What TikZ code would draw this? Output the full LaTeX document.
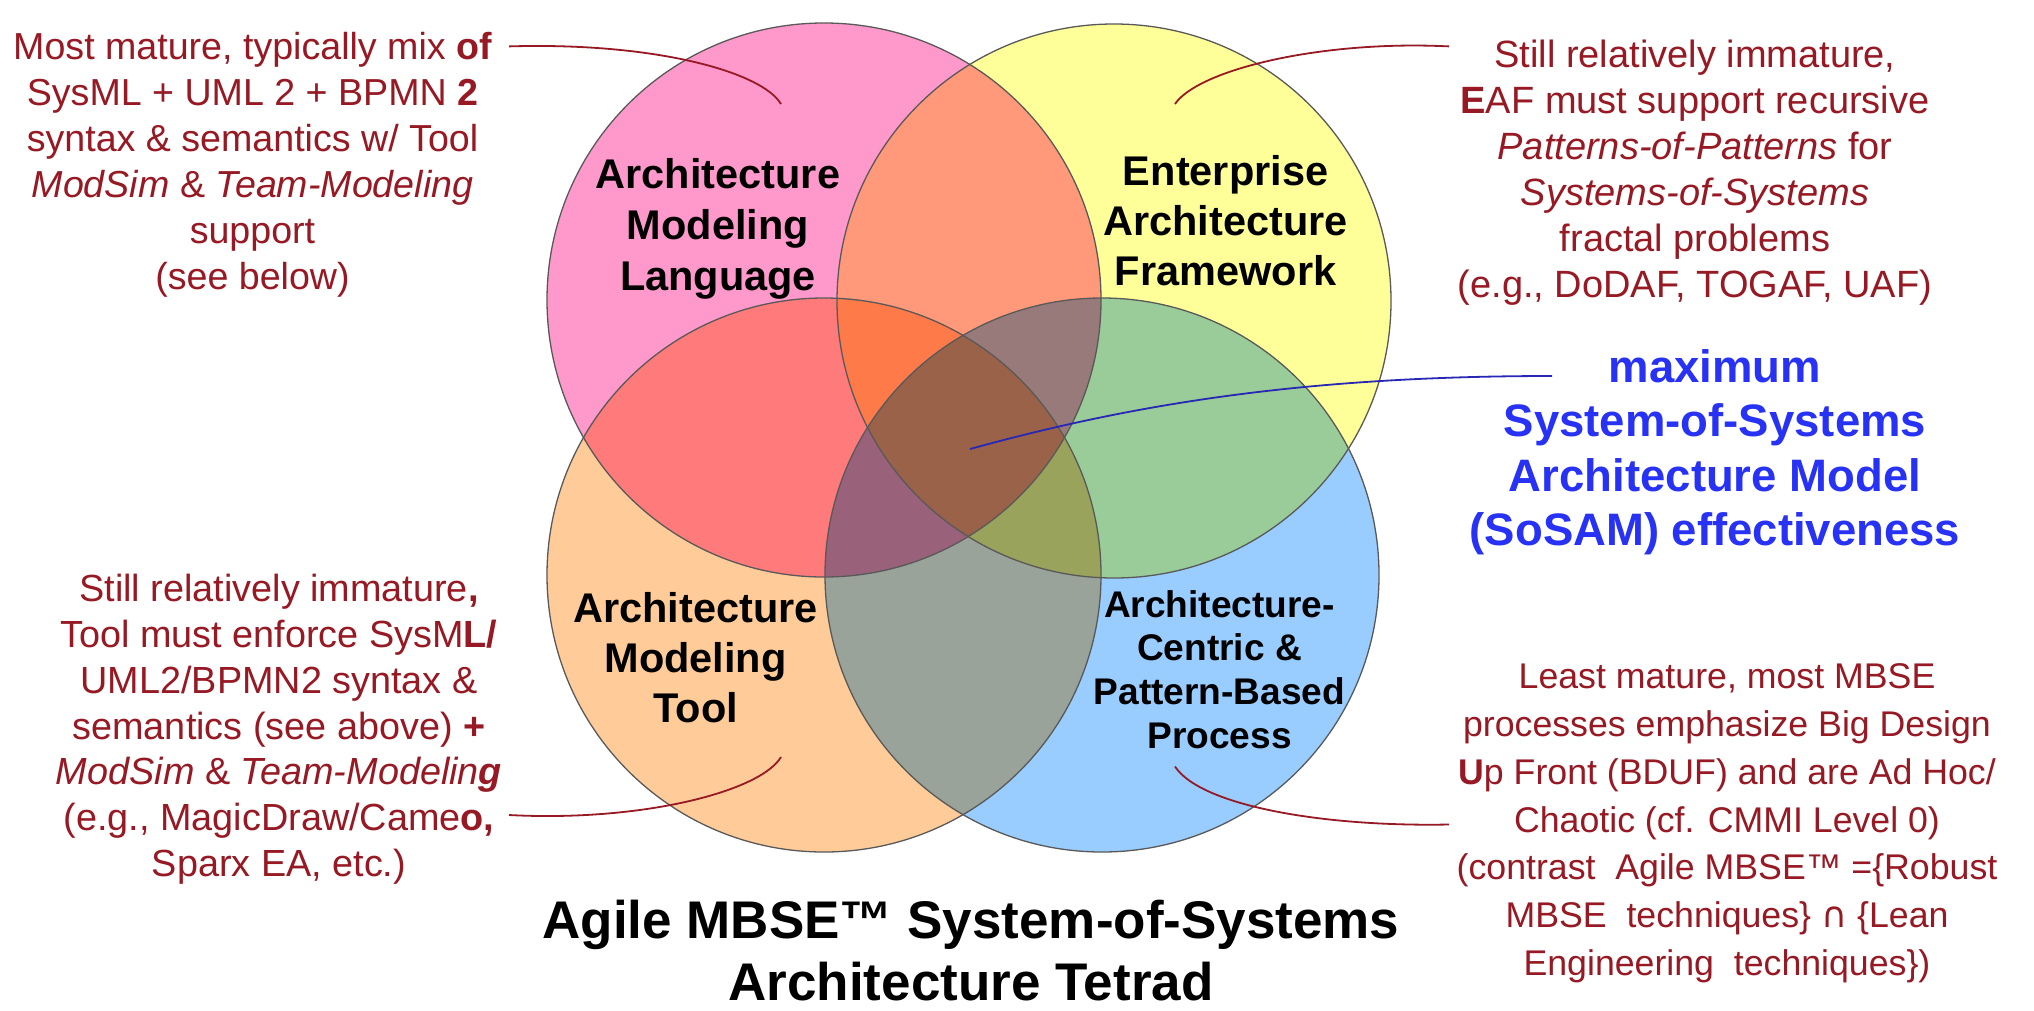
\documentclass[tikz,border=0pt]{standalone}
\usepackage{fontspec}
\setmainfont{Liberation Sans}
\newfontfamily\symfont{DejaVu Sans}
\definecolor{pinkc}{RGB}{255,153,204}
\definecolor{yellowc}{RGB}{255,255,153}
\definecolor{orangec}{RGB}{255,204,153}
\definecolor{bluec}{RGB}{153,204,255}
\definecolor{cPY}{RGB}{255,153,122}
\definecolor{cPO}{RGB}{255,122,122}
\definecolor{cPB}{RGB}{153,122,204}
\definecolor{cYO}{RGB}{255,204,92}
\definecolor{cYB}{RGB}{153,204,153}
\definecolor{cOB}{RGB}{153,163,153}
\definecolor{cPYO}{RGB}{255,122,73}
\definecolor{cPYB}{RGB}{153,122,122}
\definecolor{cPOB}{RGB}{153,98,122}
\definecolor{cYOB}{RGB}{153,163,92}
\definecolor{cPYOB}{RGB}{153,98,73}
\definecolor{annred}{RGB}{150,25,35}
\definecolor{annblue}{RGB}{40,50,245}
\definecolor{connblue}{RGB}{40,40,180}
\tikzset{
  ann/.style={text=annred, align=center, inner sep=0pt},
  lbl/.style={text=black, align=center, inner sep=0pt},
  conn/.style={draw=annred, line width=1.8pt},
  outline/.style={draw=black!65, line width=1.3pt},
}
\begin{document}
\begin{tikzpicture}[x=1pt,y=-1pt]
\useasboundingbox (0,0) rectangle (2034,1010);
\fill[white] (0,0) rectangle (2034,1010);
\def\R{277pt}
\coordinate (P) at (824,300);
\coordinate (Y) at (1114,301);
\coordinate (O) at (824,575);
\coordinate (B) at (1102,575);
% single circles
\fill[pinkc] (P) circle[radius=\R];
\fill[yellowc] (Y) circle[radius=\R];
\fill[orangec] (O) circle[radius=\R];
\fill[bluec] (B) circle[radius=\R];
% pairs
\begin{scope}\clip (P) circle[radius=\R]; \fill[cPY] (Y) circle[radius=\R];\end{scope}
\begin{scope}\clip (P) circle[radius=\R]; \fill[cPO] (O) circle[radius=\R];\end{scope}
\begin{scope}\clip (P) circle[radius=\R]; \fill[cPB] (B) circle[radius=\R];\end{scope}
\begin{scope}\clip (Y) circle[radius=\R]; \fill[cYO] (O) circle[radius=\R];\end{scope}
\begin{scope}\clip (Y) circle[radius=\R]; \fill[cYB] (B) circle[radius=\R];\end{scope}
\begin{scope}\clip (O) circle[radius=\R]; \fill[cOB] (B) circle[radius=\R];\end{scope}
% triples
\begin{scope}\clip (P) circle[radius=\R]; \clip (Y) circle[radius=\R]; \fill[cPYO] (O) circle[radius=\R];\end{scope}
\begin{scope}\clip (P) circle[radius=\R]; \clip (Y) circle[radius=\R]; \fill[cPYB] (B) circle[radius=\R];\end{scope}
\begin{scope}\clip (P) circle[radius=\R]; \clip (O) circle[radius=\R]; \fill[cPOB] (B) circle[radius=\R];\end{scope}
\begin{scope}\clip (Y) circle[radius=\R]; \clip (O) circle[radius=\R]; \fill[cYOB] (B) circle[radius=\R];\end{scope}
% all four
\begin{scope}\clip (P) circle[radius=\R]; \clip (Y) circle[radius=\R]; \clip (O) circle[radius=\R]; \fill[cPYOB] (B) circle[radius=\R];\end{scope}
% outlines
\draw[outline] (P) circle[radius=\R];
\draw[outline] (Y) circle[radius=\R];
\draw[outline] (O) circle[radius=\R];
\draw[outline] (B) circle[radius=\R];

% circle labels
\node[lbl, font=\bfseries\fontsize{41.5}{50.9}\selectfont] (lang) at (718,229) {Architecture\\Modeling\\Language};
\node[lbl, font=\bfseries\fontsize{41.5}{49.9}\selectfont] (eaf) at (1225.6,220.3) {Enterprise\\Architecture\\Framework};
\node[lbl, font=\bfseries\fontsize{41.5}{50}\selectfont] (tool) at (695.6,657.7) {Architecture\\Modeling\\Tool};
\node[lbl, font=\bfseries\fontsize{37.1}{43.6}\selectfont] (proc) at (1219.5,669.4) {Architecture-\\Centric \&\\Pattern-Based\\Process};

% annotations
\node[ann, font=\fontsize{37.6}{45.9}\selectfont] (tl) at (252.5,165) {Most mature, typically mix \textbf{of}\\SysML + UML 2 + BPMN \textbf{2}\\syntax \& semantics w/ Tool\\\textit{ModSim} \& \textit{Team-Modeling}\\support\\(see below)};
\node[ann, font=\fontsize{38}{46}\selectfont] (tr) at (1695,172.3) {Still relatively immature,\\\textbf{E}AF must support recursive\\\textit{Patterns-of-Patterns} for\\\textit{Systems-of-Systems}\\fractal problems\\(e.g., DoDAF, TOGAF, UAF)};
\node[ann, font=\fontsize{37.8}{45.8}\selectfont] (bl) at (279,729.3) {Still relatively immature\textbf{,}\\Tool must enforce SysM\textbf{L/}\\UML2/BPMN2 syntax \&\\semantics (see above) \textbf{+}\\\textit{ModSim} \& \textit{Team-Modelin\textbf{g}}\\(e.g., MagicDraw/Came\textbf{o,}\\Sparx EA, etc.)};
\node[ann, font=\fontsize{35.7}{47.8}\selectfont] (br) at (1727,823.3) {Least mature, most MBSE\\processes emphasize Big Design\\\textbf{U}p Front (BDUF) and are Ad Hoc/\\Chaotic (cf. CMMI Level 0)\\(contrast\ \ Agile MBSE™ =\{Robust\\MBSE\ \ techniques\} {\symfont ∩} \{Lean\\Engineering\ \ techniques\})};
\node[align=center, inner sep=0pt, text=annblue, font=\bfseries\fontsize{45.5}{54.5}\selectfont] (sosam) at (1715,452.2) {maximum\\System-of-Systems\\Architecture Model\\(SoSAM) effectiveness};
\node[align=center, inner sep=0pt, text=black, font=\bfseries\fontsize{53}{61.2}\selectfont] (title) at (971,950.5) {Agile MBSE™ System-of-Systems\\Architecture Tetrad};

% connector end points
\coordinate (tlA) at (509,46.4);
\coordinate (tlB) at (781,104);
\coordinate (trA) at (1449,46.4);
\coordinate (trB) at (1175,104);
\coordinate (blA) at (509,815);
\coordinate (blB) at (781,757);
\coordinate (brA) at (1449,824.5);
\coordinate (brB) at (1175,766.5);
\coordinate (sA) at (1552,376);
\coordinate (sB) at (970,449);

\draw[conn] (tlA) .. controls (655,42) and (762,72) .. (tlB);
\draw[conn] (trA) .. controls (1320,40) and (1198,70) .. (trB);
\draw[conn] (blA) .. controls (640,822) and (760,792) .. (blB);
\draw[conn] (brA) .. controls (1320,827) and (1200,805) .. (brB);
\draw[draw=connblue, line width=1.8pt] (sA) .. controls (1300,376) and (1130,405) .. (sB);
\end{tikzpicture}
\end{document}
